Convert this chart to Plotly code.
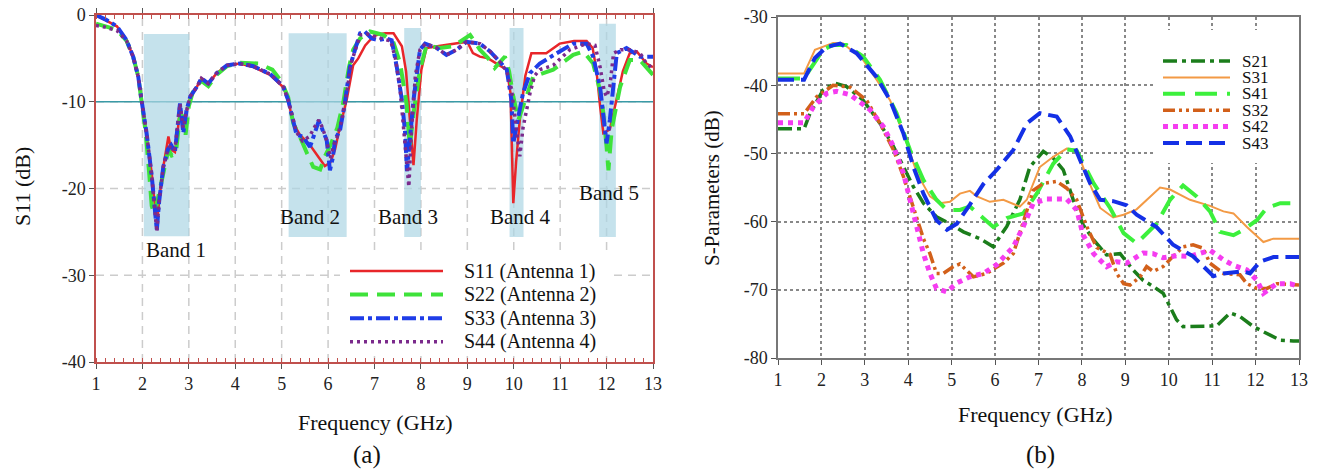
import plotly.graph_objects as go

# ---------------- (a) reflection coefficients ----------------
s11_x = [1.0, 1.2, 1.45, 1.66, 1.8, 1.91, 1.98, 2.09, 2.2, 2.27, 2.32, 2.38, 2.45, 2.56, 2.62, 2.7, 2.76,
         2.81, 2.88, 2.94, 3.03, 3.17, 3.27, 3.42, 3.6, 3.82, 4.1, 4.39, 4.75, 5.03, 5.14, 5.25, 5.39,
         5.61, 5.83, 5.93, 6.05, 6.15, 6.25, 6.4, 6.54, 6.65, 6.8, 6.97, 7.1, 7.23, 7.41, 7.5, 7.59,
         7.68, 7.75, 7.8, 7.84, 7.91, 8.01, 8.12, 8.34, 8.6, 8.85, 9.0, 9.12, 9.27, 9.45, 9.63, 9.85,
         9.93, 9.99, 10.05, 10.13, 10.25, 10.38, 10.7, 10.99, 11.3, 11.57, 11.7, 11.78, 11.86, 11.93,
         12.07, 12.2, 12.35, 12.5, 12.65, 12.86, 13.0]
s11_y = [0.0, -0.6, -1.3, -2.9, -4.8, -7.1, -9.8, -13.6, -18.2, -22.1, -23.5, -20.5, -17.5, -14.0, -15.5,
         -15.8, -13.5, -10.5, -13.0, -11.5, -9.4, -8.3, -7.3, -7.9, -6.7, -5.8, -5.6, -6.0, -6.9, -8.3,
         -9.8, -12.5, -13.8, -15.0, -16.7, -17.4, -17.0, -15.5, -13.0, -9.8, -5.8, -5.0, -3.5, -2.5, -2.2,
         -2.1, -2.1, -2.8, -3.6, -6.5, -11.0, -15.2, -17.3, -12.1, -6.3, -3.8, -3.6, -3.4, -3.2, -3.1,
         -4.4, -4.8, -5.0, -5.6, -6.3, -9.0, -21.7, -17.0, -12.1, -7.0, -4.4, -4.4, -3.3, -3.0, -3.0,
         -3.8, -6.3, -10.5, -13.6, -13.2, -10.2, -6.5, -4.4, -4.2, -5.6, -6.0]

s22_x = [1.0, 1.2, 1.45, 1.66, 1.8, 1.91, 1.98, 2.07, 2.15, 2.2, 2.26, 2.32, 2.4, 2.48, 2.56, 2.63, 2.72,
         2.8, 2.86, 2.93, 3.0, 3.1, 3.27, 3.42, 3.6, 3.82, 4.1, 4.5, 4.8, 5.0, 5.14, 5.25, 5.39, 5.55,
         5.68, 5.83, 5.93, 6.05, 6.2, 6.33, 6.45, 6.54, 6.69, 6.9, 7.19, 7.41, 7.55, 7.69, 7.76, 7.85,
         7.98, 8.12, 8.41, 8.7, 9.06, 9.27, 9.45, 9.59, 9.81, 9.9, 9.99, 10.1, 10.2, 10.42, 10.85,
         11.28, 11.5, 11.71, 11.85, 11.93, 12.0, 12.04, 12.11, 12.29, 12.5, 12.72, 13.0]
s22_y = [-1.0, -1.3, -1.7, -3.0, -4.8, -7.1, -9.8, -13.5, -18.5, -22.0, -23.0, -21.5, -19.5, -17.0, -15.5,
         -16.2, -16.0, -12.0, -11.5, -13.8, -10.5, -8.6, -7.6, -8.2, -6.9, -5.9, -5.5, -5.6, -6.3, -7.7,
         -9.5, -12.5, -14.0, -16.0, -17.5, -17.8, -16.3, -15.0, -13.0, -10.0, -6.0, -4.0, -2.7, -1.9,
         -2.3, -3.2, -5.5, -10.2, -15.2, -11.0, -6.3, -3.5, -3.8, -3.6, -2.3, -4.0, -5.0, -6.1, -4.8,
         -6.5, -9.4, -12.1, -10.6, -7.1, -6.3, -4.6, -4.2, -5.6, -8.5, -11.3, -15.2, -17.9, -13.2, -8.3,
         -5.2, -5.2, -6.9]

s33_x = [1.0, 1.2, 1.45, 1.66, 1.8, 1.91, 1.98, 2.09, 2.2, 2.27, 2.31, 2.36, 2.45, 2.55, 2.62, 2.7, 2.76,
         2.81, 2.88, 2.95, 3.03, 3.17, 3.27, 3.42, 3.6, 3.82, 4.1, 4.39, 4.75, 5.03, 5.14, 5.25, 5.32,
         5.45, 5.61, 5.72, 5.8, 5.9, 5.97, 6.04, 6.1, 6.15, 6.26, 6.36, 6.47, 6.58, 6.69, 6.79, 6.94,
         7.08, 7.26, 7.37, 7.48, 7.59, 7.66, 7.7, 7.76, 7.84, 7.98, 8.09, 8.34, 8.55, 8.77, 8.98, 9.27,
         9.49, 9.7, 9.85, 9.95, 9.99, 10.1, 10.2, 10.35, 10.56, 10.99, 11.28, 11.57, 11.71, 11.86, 11.95,
         12.0, 12.07, 12.15, 12.22, 12.43, 12.72, 13.0]
s33_y = [0.0, -0.5, -1.3, -2.9, -4.8, -7.1, -9.8, -13.6, -18.5, -22.5, -24.8, -21.5, -17.5, -15.5, -15.0,
         -15.8, -13.0, -10.2, -13.6, -11.0, -9.4, -8.3, -7.3, -7.9, -6.7, -5.8, -5.6, -5.9, -6.8, -8.2,
         -9.8, -12.3, -13.8, -14.0, -15.2, -13.5, -12.2, -13.5, -14.4, -17.9, -16.5, -14.4, -13.2, -10.2,
         -6.0, -4.0, -2.1, -1.9, -2.7, -2.9, -2.7, -2.9, -6.0, -9.8, -13.6, -18.0, -14.0, -9.8, -4.0,
         -3.3, -3.8, -4.6, -4.0, -3.1, -3.3, -4.2, -5.4, -6.3, -9.8, -14.8, -11.7, -9.0, -6.7, -5.6,
         -4.2, -3.3, -3.3, -4.8, -8.3, -12.5, -14.8, -12.1, -8.0, -4.4, -3.8, -4.8, -4.8]

s44_x = [1.0, 1.2, 1.45, 1.66, 1.8, 1.91, 1.98, 2.09, 2.2, 2.27, 2.31, 2.36, 2.45, 2.55, 2.62, 2.7, 2.76,
         2.81, 2.88, 2.95, 3.03, 3.17, 3.27, 3.42, 3.6, 3.82, 4.1, 4.39, 4.75, 5.03, 5.14, 5.25, 5.32,
         5.45, 5.6, 5.72, 5.8, 5.88, 5.97, 6.05, 6.12, 6.2, 6.3, 6.4, 6.5, 6.6, 6.7, 6.85, 7.0, 7.2,
         7.35, 7.45, 7.55, 7.63, 7.7, 7.74, 7.8, 7.88, 7.98, 8.1, 8.34, 8.55, 8.77, 8.98, 9.27, 9.49,
         9.7, 9.85, 9.95, 10.05, 10.13, 10.2, 10.35, 10.45, 10.56, 10.85, 11.21, 11.57, 11.75, 11.86,
         11.95, 12.0, 12.07, 12.15, 12.3, 12.5, 12.72, 12.85, 13.0]
s44_y = [-1.2, -1.4, -1.8, -3.0, -4.8, -7.1, -9.8, -13.6, -18.5, -22.5, -25.0, -21.5, -17.5, -15.5, -15.0,
         -15.5, -12.5, -10.2, -13.0, -11.0, -9.4, -8.3, -7.3, -7.9, -6.7, -5.8, -5.6, -5.9, -6.8, -8.2,
         -9.8, -12.3, -13.5, -14.5, -14.0, -12.8, -12.1, -13.0, -14.5, -16.5, -15.0, -14.0, -12.0, -9.0,
         -5.5, -3.8, -2.3, -2.2, -2.5, -2.8, -3.0, -5.0, -8.5, -13.0, -17.0, -19.8, -13.0, -7.0, -4.0,
         -3.3, -3.8, -4.6, -4.0, -3.1, -3.3, -4.2, -5.4, -6.5, -8.5, -12.5, -16.3, -13.0, -9.0, -7.0,
         -6.3, -5.8, -4.0, -3.3, -3.5, -6.0, -8.8, -9.4, -8.3, -4.4, -4.0, -4.0, -4.4, -5.5, -6.2]

threshold_db = -10
band_x0 = [2.03, 5.15, 7.64, 9.91, 11.84]
band_x1 = [3.01, 6.40, 8.00, 10.21, 12.20]
band_top = [-2.2, -2.1, -1.5, -1.5, -1.0]
band_bottom = [-25.5, -25.6, -25.6, -25.6, -25.6]
band_labels = ["Band 1", "Band 2", "Band 3", "Band 4", "Band 5"]
band_label_x = [2.72, 5.6, 7.72, 10.14, 12.05]
band_label_y = [-27.1, -23.3, -23.3, -23.3, -20.5]

freq_ticks = list(range(1, 14))
freq_ticktext = [str(v) for v in freq_ticks]
left_yticks = [0, -10, -20, -30, -40]
left_yticktext = ["0", "-10", "-20", "-30", "-40"]
right_yticks = [-30, -40, -50, -60, -70, -80]
right_yticktext = ["-30", "-40", "-50", "-60", "-70", "-80"]

# ---------------- (b) mutual coupling ----------------
s21_x = [1.0, 1.6, 1.74, 2.04, 2.31, 2.58, 2.96, 3.35, 3.66, 3.89, 4.12, 4.35, 4.65, 4.96, 5.27, 5.65,
         5.96, 6.11, 6.27, 6.57, 6.8, 7.11, 7.34, 7.57, 7.8, 8.03, 8.27, 8.57, 8.88, 9.18, 9.41, 9.64,
         9.87, 10.03, 10.18, 10.33, 10.72, 11.1, 11.41, 11.64, 11.95, 12.26, 12.57, 12.87, 13.0]
s21_y = [-46.4, -46.4, -44.1, -40.7, -39.7, -40.2, -42.2, -45.6, -49.0, -52.0, -54.9, -57.3, -59.3, -60.3,
         -61.5, -62.5, -63.7, -62.2, -60.7, -56.8, -52.0, -49.7, -50.7, -52.4, -56.8, -60.5, -62.7, -64.9,
         -64.7, -67.1, -68.6, -69.5, -70.5, -72.5, -74.4, -75.4, -75.4, -75.3, -73.4, -73.9, -75.4, -76.4,
         -77.4, -77.5, -77.5]

s31_x = [1.0, 1.6, 1.85, 2.27, 2.5, 2.96, 3.27, 3.58, 3.89, 4.2, 4.5, 4.73, 4.96, 5.19, 5.42, 5.58, 5.88,
         6.19, 6.57, 6.73, 7.03, 7.34, 7.65, 7.88, 8.11, 8.42, 8.72, 8.96, 9.26, 9.57, 9.8, 10.03, 10.49,
         10.95, 11.26, 11.49, 11.8, 12.18, 12.41, 12.87, 13.0]
s31_y = [-38.3, -38.3, -34.8, -33.8, -33.9, -36.3, -39.2, -42.2, -47.1, -52.9, -56.3, -57.3, -57.1, -55.9,
         -55.5, -56.3, -57.1, -56.8, -57.8, -56.8, -52.0, -50.5, -49.3, -49.5, -53.4, -58.0, -59.4, -59.0,
         -58.2, -56.3, -55.0, -55.3, -56.8, -57.7, -58.5, -58.8, -60.8, -63.0, -62.5, -62.5, -62.5]

s41_x = [1.0, 1.6, 2.04, 2.27, 2.58, 2.96, 3.35, 3.73, 4.04, 4.35, 4.65, 4.89, 5.19, 5.42, 5.73, 5.96,
         6.27, 6.65, 6.96, 7.34, 7.65, 7.88, 8.27, 8.65, 8.96, 9.26, 9.72, 10.03, 10.33, 10.64, 10.95,
         11.18, 11.49, 11.72, 12.03, 12.26, 12.57, 12.8]
s41_y = [-39.0, -39.0, -34.8, -34.1, -34.1, -35.8, -39.2, -44.1, -49.5, -53.9, -56.8, -58.3, -58.3, -57.8,
         -59.5, -60.8, -59.5, -58.8, -55.9, -51.5, -49.4, -49.6, -54.4, -58.0, -61.7, -63.2, -60.3, -56.8,
         -54.7, -56.3, -58.5, -61.5, -62.0, -61.2, -59.8, -58.0, -57.3, -57.3]

s32_x = [1.0, 1.6, 1.89, 2.27, 2.66, 3.04, 3.35, 3.66, 3.89, 4.12, 4.35, 4.5, 4.65, 4.81, 5.04, 5.19, 5.35,
         5.5, 5.8, 6.19, 6.42, 6.57, 6.73, 6.88, 7.11, 7.42, 7.65, 7.88, 8.11, 8.34, 8.65, 8.8, 8.96, 9.11,
         9.34, 9.49, 9.64, 9.87, 10.1, 10.33, 10.56, 10.79, 10.95, 11.26, 11.64, 11.8, 12.03, 12.26, 12.49,
         12.72, 13.0]
s32_y = [-44.2, -44.2, -41.7, -40.0, -40.3, -42.2, -45.6, -49.5, -53.4, -57.8, -62.5, -64.7, -67.6, -67.6,
         -66.6, -66.2, -67.1, -68.1, -67.6, -66.1, -64.7, -61.7, -58.3, -55.4, -54.4, -54.1, -55.1, -56.8,
         -60.7, -63.8, -64.8, -67.6, -69.1, -69.3, -68.1, -66.6, -67.3, -66.6, -65.1, -63.7, -63.4, -63.9,
         -66.1, -67.6, -67.8, -69.1, -69.8, -69.8, -69.1, -69.2, -69.3]

s42_x = [1.0, 1.6, 1.81, 2.12, 2.35, 2.66, 3.12, 3.43, 3.66, 3.89, 4.04, 4.19, 4.35, 4.5, 4.65, 4.89, 5.12,
         5.42, 5.73, 6.04, 6.42, 6.65, 6.88, 7.19, 7.65, 7.88, 8.03, 8.27, 8.57, 8.8, 9.03, 9.41, 9.64,
         9.87, 10.18, 10.49, 10.95, 11.26, 11.49, 11.8, 12.03, 12.18, 12.49, 12.8, 13.0]
s42_y = [-45.5, -45.5, -43.2, -41.2, -40.9, -41.4, -43.6, -46.1, -49.0, -52.9, -56.8, -60.5, -64.7, -67.6,
         -69.8, -70.3, -69.0, -68.1, -67.6, -66.3, -63.7, -60.7, -57.3, -56.7, -56.7, -58.3, -62.0, -64.7,
         -66.6, -65.9, -66.1, -64.6, -64.7, -65.3, -65.0, -65.1, -64.2, -65.6, -66.4, -67.1, -68.6, -70.5,
         -69.1, -69.1, -69.5]

s43_x = [1.0, 1.6, 1.85, 2.12, 2.43, 2.81, 3.27, 3.58, 3.89, 4.12, 4.35, 4.65, 4.89, 5.12, 5.42, 5.73,
         6.04, 6.42, 6.73, 7.03, 7.42, 7.73, 7.96, 8.19, 8.42, 8.72, 9.03, 9.26, 9.72, 10.1, 10.56, 11.03,
         11.26, 11.72, 11.87, 12.1, 12.41, 13.0]
s43_y = [-39.2, -39.2, -36.0, -34.4, -33.9, -35.3, -38.8, -42.2, -47.1, -52.0, -55.9, -59.8, -61.2, -60.3,
         -57.5, -54.5, -52.4, -49.5, -45.6, -44.1, -44.6, -47.5, -51.0, -54.4, -56.8, -57.0, -57.6, -59.0,
         -60.8, -63.4, -65.1, -68.0, -67.6, -67.3, -67.6, -65.9, -65.2, -65.2]

SERIF = "Liberation Serif"
RED = "#c0504d"
W, H = 1324, 470
OFF = 8  # the page body offsets the figure by 8 px


def px(p):
    return (p - OFF) / W


def py(p):
    return 1 - (p - OFF) / H


# plot-area pixel frames (reference image coordinates)
LEFT_BOX = (96, 653, 15, 362)     # x_left, x_right, y_top, y_bottom
RIGHT_BOX = (778, 1299, 17, 358)

left_series = [
    ("S11 (Antenna 1)", s11_x, s11_y, "#e8262a", "solid", 2.5),
    ("S22 (Antenna 2)", s22_x, s22_y, "#3ee23a", "18px,9px", 4),
    ("S33 (Antenna 3)", s33_x, s33_y, "#1f3de8", "14px,4px,4px,4px", 4),
    ("S44 (Antenna 4)", s44_x, s44_y, "#7b2a8c", "3px,4px", 3.5),
]
right_series = [
    ("S21", s21_x, s21_y, "#1b7d1b", "14px,5px,4px,5px", 3.5),
    ("S31", s31_x, s31_y, "#f39a45", "solid", 2),
    ("S41", s41_x, s41_y, "#3cf03c", "22px,10px", 4),
    ("S32", s32_x, s32_y, "#d2601a", "12px,4px,3px,4px,3px,4px", 3.5),
    ("S42", s42_x, s42_y, "#f53cf0", "dot", 5),
    ("S43", s43_x, s43_y, "#1430e6", "16px,7px", 4),
]

fig = go.Figure()
for name, xs, ys, col, dash, w in left_series:
    fig.add_trace(go.Scatter(x=xs, y=ys, name=name, mode="lines", xaxis="x", yaxis="y",
                             line=dict(color=col, dash=dash, width=w), showlegend=False))
for name, xs, ys, col, dash, w in right_series:
    fig.add_trace(go.Scatter(x=xs, y=ys, name=name, mode="lines", xaxis="x2", yaxis="y2",
                             line=dict(color=col, dash=dash, width=w), showlegend=False))

shapes = []
annotations = []

# left-panel dashed grid drawn as background shapes so the bands can cover it
grid_style = dict(color="#cccccc", width=1.5, dash="8px,6px")
for v in freq_ticks[1:-1]:
    shapes.append(dict(type="line", xref="x", yref="y domain", x0=v, x1=v, y0=0, y1=1,
                       line=grid_style, layer="below"))
for v in left_yticks[1:-1]:
    shapes.append(dict(type="line", xref="x domain", yref="y", x0=0, x1=1, y0=v, y1=v,
                       line=grid_style, layer="below"))

for x0, x1, yt, yb in zip(band_x0, band_x1, band_top, band_bottom):
    shapes.append(dict(type="rect", xref="x", yref="y", x0=x0, x1=x1, y0=yb, y1=yt,
                       fillcolor="rgba(173,214,228,0.7)", line=dict(width=0), layer="below"))
shapes.append(dict(type="line", xref="x domain", yref="y", x0=0, x1=1,
                   y0=threshold_db, y1=threshold_db, line=dict(color="#3a9aa6", width=1.5),
                   layer="below"))

for t, bx, by in zip(band_labels, band_label_x, band_label_y):
    annotations.append(dict(text=t, x=bx, y=by, xref="x", yref="y", showarrow=False,
                            font=dict(family=SERIF, size=21, color="#111")))


def add_legend(series, box, sample_x, text_x, row0, step, size):
    bx0, by0, bx1, by1 = box
    shapes.append(dict(type="rect", xref="paper", yref="paper",
                       x0=px(bx0), x1=px(bx1), y0=py(by1), y1=py(by0),
                       fillcolor="white", line=dict(width=0), layer="above"))
    for i, (name, _xs, _ys, col, dash, w) in enumerate(series):
        yy = py(row0 + i * step)
        shapes.append(dict(type="line", xref="paper", yref="paper", x0=px(sample_x[0]),
                           x1=px(sample_x[1]), y0=yy, y1=yy,
                           line=dict(color=col, dash=dash, width=w), layer="above"))
        annotations.append(dict(text=name, x=px(text_x), y=yy, xref="paper", yref="paper",
                                xanchor="left", yanchor="middle", showarrow=False,
                                font=dict(family=SERIF, size=size, color="#111")))


add_legend(left_series, (340, 256, 613, 356), (350, 443), 462, 271, 23.6, 20)
add_legend(right_series, (1153, 30, 1298, 163), (1163, 1230), 1240, 61, 16.4, 17)


def paper_ann(text, x, y, size, angle=0):
    return dict(text=text, x=px(x), y=py(y), xref="paper", yref="paper", showarrow=False,
                textangle=angle, xanchor="center", yanchor="middle",
                font=dict(family=SERIF, size=size, color="#111"))


annotations += [
    paper_ann("S11 (dB)", 22, 187, 22, -90),
    paper_ann("Frequency (GHz)", 375, 422, 22),
    paper_ann("(a)", 367, 455, 25),
    paper_ann("S-Parameters (dB)", 712, 188, 21, -90),
    paper_ann("Frequency (GHz)", 1035, 414, 22),
    paper_ann("(b)", 1040, 455, 25),
]

tickfont = dict(family=SERIF, size=18, color="#222")

fig.update_layout(
    width=W, height=H, margin=dict(l=0, r=0, t=0, b=0, pad=0, autoexpand=False),
    paper_bgcolor="white", plot_bgcolor="white", showlegend=False,
    shapes=shapes, annotations=annotations,
    xaxis=dict(domain=[px(LEFT_BOX[0]), px(LEFT_BOX[1])], range=[1, 13], tickvals=freq_ticks,
               ticktext=freq_ticktext, anchor="y", automargin=False, ticklabeloverflow="allow",
               showline=True, linecolor=RED, linewidth=1.5, mirror="allticks",
               ticks="outside", ticklen=5, tickcolor="#555", tickfont=tickfont,
               showgrid=False, zeroline=False,
               minor=dict(ticks="inside", dtick=0.2, ticklen=4, tickcolor=RED, showgrid=False)),
    yaxis=dict(domain=[py(LEFT_BOX[3]), py(LEFT_BOX[2])], range=[-40, 0], tickvals=left_yticks,
               ticktext=left_yticktext, anchor="x", automargin=False, ticklabeloverflow="allow",
               showline=True, linecolor=RED, linewidth=1.5, mirror=True,
               ticks="outside", ticklen=5, tickcolor="#555", tickfont=tickfont,
               showgrid=False, zeroline=False),
    xaxis2=dict(domain=[px(RIGHT_BOX[0]), px(RIGHT_BOX[1])], range=[1, 13], tickvals=freq_ticks,
                ticktext=freq_ticktext, anchor="y2", automargin=False, ticklabeloverflow="allow",
                showline=True, linecolor="#777", linewidth=1.5, mirror=True,
                ticks="outside", ticklen=5, tickcolor="#555", tickfont=tickfont,
                showgrid=True, gridcolor="#888", griddash="dot", gridwidth=2, zeroline=False),
    yaxis2=dict(domain=[py(RIGHT_BOX[3]), py(RIGHT_BOX[2])], range=[-80, -30], tickvals=right_yticks,
                ticktext=right_yticktext, anchor="x2", automargin=False, ticklabeloverflow="allow",
                showline=True, linecolor="#777", linewidth=1.5, mirror=True,
                ticks="outside", ticklen=5, tickcolor="#555", tickfont=tickfont,
                showgrid=True, gridcolor="#888", griddash="dot", gridwidth=2, zeroline=False),
)

fig.write_html("out.html")
